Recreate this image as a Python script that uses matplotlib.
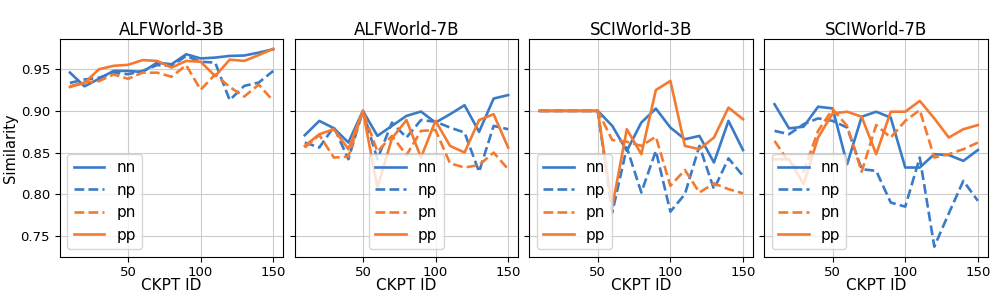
import matplotlib
matplotlib.use("Agg")
import matplotlib.pyplot as plt

ckpt = [10, 20, 30, 40, 50, 60, 70, 80, 90, 100, 110, 120, 130, 140, 150]
titles = ["ALFWorld-3B", "ALFWorld-7B", "SCIWorld-3B", "SCIWorld-7B"]

# ALFWorld-3B
alf3_nn = [0.946, 0.9295, 0.9385, 0.948, 0.948, 0.9467, 0.958, 0.956, 0.968, 0.963, 0.964, 0.966, 0.9665, 0.970, 0.974]
alf3_np = [0.9336, 0.9377, 0.9398, 0.946, 0.944, 0.948, 0.955, 0.954, 0.966, 0.959, 0.958, 0.913, 0.930, 0.934, 0.948]
alf3_pn = [0.9295, 0.9344, 0.9357, 0.9438, 0.9385, 0.9459, 0.9459, 0.941, 0.9549, 0.9254, 0.9438, 0.9287, 0.9172, 0.9316, 0.9119]
alf3_pp = [0.9287, 0.9336, 0.950, 0.9541, 0.9553, 0.961, 0.960, 0.952, 0.960, 0.959, 0.9418, 0.9615, 0.960, 0.967, 0.9746]

# ALFWorld-7B
alf7_nn = [0.8708, 0.888, 0.8792, 0.862, 0.900, 0.870, 0.882, 0.894, 0.8992, 0.886, 0.896, 0.9068, 0.8748, 0.9148, 0.919]
alf7_np = [0.862, 0.856, 0.8808, 0.842, 0.900, 0.842, 0.886, 0.868, 0.889, 0.887, 0.880, 0.874, 0.8268, 0.882, 0.878]
alf7_pn = [0.856, 0.871, 0.844, 0.845, 0.900, 0.851, 0.870, 0.847, 0.876, 0.877, 0.837, 0.832, 0.835, 0.850, 0.830]
alf7_pp = [0.858, 0.872, 0.878, 0.854, 0.900, 0.808, 0.867, 0.889, 0.844, 0.888, 0.858, 0.850, 0.889, 0.896, 0.856]

# SCIWorld-3B
sci3_nn = [0.900, 0.900, 0.900, 0.900, 0.900, 0.882, 0.852, 0.886, 0.9028, 0.880, 0.866, 0.870, 0.838, 0.888, 0.853]
sci3_np = [0.900, 0.900, 0.900, 0.900, 0.900, 0.778, 0.856, 0.802, 0.852, 0.779, 0.800, 0.858, 0.806, 0.843, 0.822]
sci3_pn = [0.900, 0.900, 0.900, 0.900, 0.900, 0.865, 0.863, 0.858, 0.869, 0.810, 0.829, 0.802, 0.813, 0.806, 0.801]
sci3_pp = [0.900, 0.900, 0.900, 0.900, 0.900, 0.785, 0.878, 0.848, 0.925, 0.936, 0.858, 0.854, 0.868, 0.904, 0.890]

# SCIWorld-7B
sci7_nn = [0.908, 0.879, 0.881, 0.905, 0.903, 0.836, 0.893, 0.899, 0.892, 0.832, 0.832, 0.848, 0.847, 0.840, 0.853]
sci7_np = [0.876, 0.872, 0.884, 0.891, 0.888, 0.880, 0.830, 0.828, 0.790, 0.785, 0.844, 0.737, 0.777, 0.816, 0.792]
sci7_pn = [0.864, 0.838, 0.827, 0.876, 0.902, 0.882, 0.827, 0.883, 0.868, 0.888, 0.901, 0.844, 0.848, 0.854, 0.862]
sci7_pp = [0.842, 0.842, 0.812, 0.868, 0.897, 0.899, 0.893, 0.848, 0.899, 0.899, 0.912, 0.891, 0.868, 0.878, 0.883]

panels = [
    (alf3_nn, alf3_np, alf3_pn, alf3_pp),
    (alf7_nn, alf7_np, alf7_pn, alf7_pp),
    (sci3_nn, sci3_np, sci3_pn, sci3_pp),
    (sci7_nn, sci7_np, sci7_pn, sci7_pp),
]
legend_locs = ["lower left", "lower center", "lower left", "lower left"]

BLUE = "#3a7bc8"
ORANGE = "#f47a30"
styles = [("nn", BLUE, "-"), ("np", BLUE, "--"), ("pn", ORANGE, "--"), ("pp", ORANGE, "-")]

fig, axes = plt.subplots(1, 4, figsize=(9.96, 2.99), dpi=100, sharey=True)
fig.subplots_adjust(left=0.060, right=0.992, top=0.870, bottom=0.142, wspace=0.05)

for ax, title, series, loc in zip(axes, titles, panels, legend_locs):
    for (name, color, ls), vals in zip(styles, series):
        ax.plot(ckpt, vals, color=color, linestyle=ls, linewidth=1.9, label=name)
    ax.set_title(title, fontsize=12, pad=3)
    ax.set_xlabel("CKPT ID", fontsize=11, labelpad=-1)
    ax.grid(True, color="#cccccc", linewidth=0.8)
    ax.tick_params(labelsize=9.5)
    ax.legend(loc=loc, fontsize=11)

axes[0].set_ylabel("Similarity", fontsize=10.5, labelpad=2)

fig.savefig("out.png", dpi=100)
